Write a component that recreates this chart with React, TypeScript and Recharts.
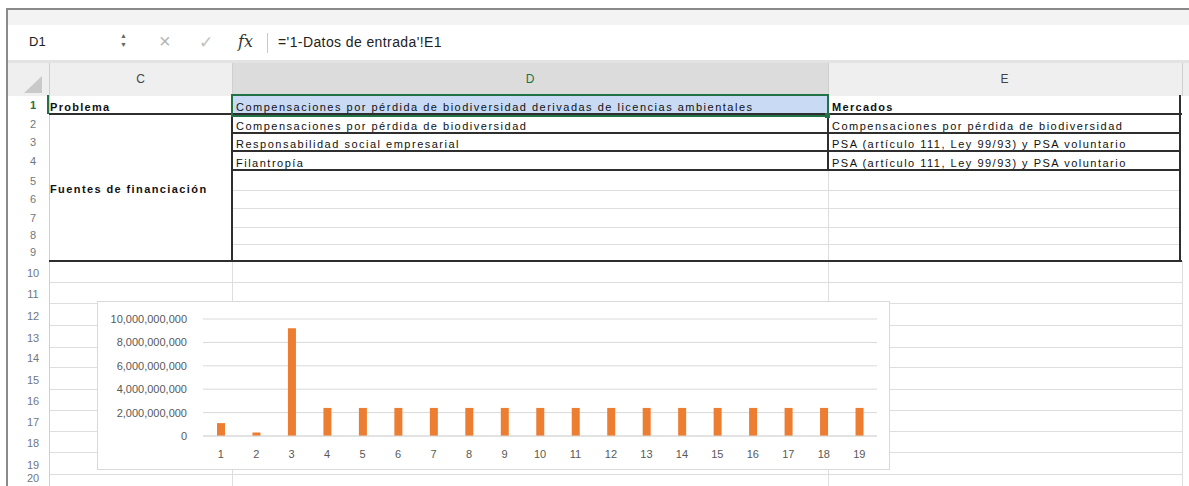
import React from 'react';
import { BarChart, Bar, XAxis, YAxis, CartesianGrid } from 'recharts';

// ---- chart data ----
const categories = ['1', '2', '3', '4', '5', '6', '7', '8', '9', '10', '11', '12', '13', '14', '15', '16', '17', '18', '19'];
const values = [
  1100000000, 300000000, 9200000000, 2400000000, 2400000000, 2400000000, 2400000000,
  2400000000, 2400000000, 2400000000, 2400000000, 2400000000, 2400000000, 2400000000,
  2400000000, 2400000000, 2400000000, 2400000000, 2400000000,
];
const yTicks = [0, 2000000000, 4000000000, 6000000000, 8000000000, 10000000000];

// ---- sheet texts ----
const columnLabels = ['C', 'D', 'E'];
const rowLabels = ['1', '2', '3', '4', '5', '6', '7', '8', '9', '10', '11', '12', '13', '14', '15', '16', '17', '18', '19', '20'];
const nameBoxText = 'D1';
const formulaText = "='1-Datos de entrada'!E1";
const cellC1 = 'Problema';
const cellC2 = 'Fuentes de financiación';
const columnDTexts = [
  'Compensaciones por pérdida de biodiversidad derivadas de licencias ambientales',
  'Compensaciones por pérdida de biodiversidad',
  'Responsabilidad social empresarial',
  'Filantropía',
];
const columnETexts = [
  'Mercados',
  'Compensaciones por pérdida de biodiversidad',
  'PSA (artículo 111, Ley 99/93) y PSA voluntario',
  'PSA (artículo 111, Ley 99/93) y PSA voluntario',
];

const data = categories.map((c, i) => ({ name: c, value: values[i] }));

// ---- layout constants ----
const colX = [49, 232, 828, 1181];
const rowBottoms = [114, 133, 151, 170, 190, 208, 227, 244, 261, 282, 303, 325, 347, 367, 389, 410, 431, 452, 474, 495];

const FONT = '"Liberation Sans", Arial, sans-serif';

const Box = (p: { l: number; t: number; w: number; h: number; bg: string; z?: number }) => (
  <div style={{ position: 'absolute', left: p.l, top: p.t, width: p.w, height: p.h, background: p.bg, zIndex: p.z || 0 }} />
);

const CellText = (p: { x: number; bottom: number; text: string; bold?: boolean }) => (
  <div
    style={{
      position: 'absolute',
      left: p.x,
      top: p.bottom - 16,
      height: 16,
      lineHeight: '16px',
      fontSize: 11,
      letterSpacing: p.bold ? 1.3 : 1.5,
      fontWeight: p.bold ? 700 : 400,
      color: '#111',
      whiteSpace: 'nowrap',
      fontFamily: FONT,
      zIndex: 3,
    }}
  >
    {p.text}
  </div>
);

export default function App() {
  const dark = '#2e2e2e';
  const light = '#dedede';
  return (
    <div style={{ position: 'fixed', left: 0, top: 0, width: 1189, height: 486, background: '#fff', overflow: 'hidden', fontFamily: FONT }}>
      {/* window frame */}
      <Box l={6} t={8} w={1183} h={2} bg="#8a8a8a" z={5} />
      <Box l={6} t={8} w={2} h={478} bg="#8a8a8a" z={5} />
      {/* toolbar band */}
      <Box l={8} t={10} w={1181} h={15} bg="#f3f3f3" />
      <Box l={8} t={60} w={1181} h={3} bg="#e3e3e3" />
      {/* name box */}
      <div style={{ position: 'absolute', left: 29, top: 34, fontSize: 13, color: '#222', fontFamily: FONT }}>{nameBoxText}</div>
      <div style={{ position: 'absolute', left: 120, top: 31, fontSize: 7, color: '#666', lineHeight: '9px' }}>▲<br />▼</div>
      <div style={{ position: 'absolute', left: 159, top: 30, fontSize: 20, color: '#b5b5b5', fontFamily: FONT }}>×</div>
      <div style={{ position: 'absolute', left: 199, top: 32, fontSize: 17, color: '#c0c0c0', fontFamily: FONT }}>✓</div>
      <div style={{ position: 'absolute', left: 238, top: 32, fontSize: 16, color: '#333', fontStyle: 'italic', fontFamily: '"DejaVu Serif", serif' }}>fx</div>
      <Box l={267} t={33} w={1} h={20} bg="#c8c8c8" />
      <div style={{ position: 'absolute', left: 278, top: 34, fontSize: 14, letterSpacing: 0.4, color: '#222', fontFamily: FONT }}>{formulaText}</div>

      {/* column headers */}
      <Box l={8} t={63} w={1181} h={33} bg="#efefef" />
      <Box l={232} t={63} w={596} h={33} bg="#dcdcdc" />
      <Box l={232} t={94} w={596} h={2} bg="#217346" />
      <Box l={49} t={63} w={1} h={33} bg="#cfcfcf" />
      <Box l={232} t={63} w={1} h={33} bg="#cfcfcf" />
      <Box l={828} t={63} w={1} h={33} bg="#cfcfcf" />
      <Box l={1182} t={63} w={1} h={33} bg="#cfcfcf" />
      <div style={{ position: 'absolute', left: 24, top: 76, width: 0, height: 0, borderLeft: '18px solid transparent', borderBottom: '17px solid #c9c9c9' }} />
      {columnLabels.map((c, i) => (
        <div
          key={c}
          style={{
            position: 'absolute',
            left: colX[i],
            width: colX[i + 1] - colX[i],
            top: 72,
            textAlign: 'center',
            fontSize: 12,
            color: c === 'D' ? '#217346' : '#444',
            fontFamily: FONT,
          }}
        >
          {c}
        </div>
      ))}

      {/* row headers */}
      <Box l={49} t={96} w={1} h={390} bg="#cfcfcf" />
      <Box l={47} t={95} w={2} h={19} bg="#217346" z={2} />
      {rowLabels.map((r, i) => (
        <div
          key={r}
          style={{
            position: 'absolute',
            left: 15,
            width: 36,
            top: Math.min(rowBottoms[i] - 15, 472),
            textAlign: 'center',
            fontSize: 11,
            color: i === 0 ? '#217346' : '#6f7780',
            fontWeight: i === 0 ? 700 : 400,
            fontFamily: FONT,
          }}
        >
          {r}
        </div>
      ))}

      {/* light gridlines */}
      {rowBottoms.slice(4, 8).map((y) => (
        <Box key={'g' + y} l={232} t={y} w={949} h={1} bg={light} />
      ))}
      {rowBottoms.slice(9).map((y) => (
        <Box key={'h' + y} l={50} t={y} w={1133} h={1} bg={light} />
      ))}
      <Box l={828} t={170} w={1} h={316} bg={light} />
      <Box l={232} t={261} w={1} h={225} bg={light} />
      <Box l={1182} t={261} w={1} h={225} bg={light} />

      {/* D1 selected cell */}
      <Box l={233} t={96} w={595} h={18} bg="#c9daf5" z={1} />
      <div style={{ position: 'absolute', left: 231, top: 94, width: 594, height: 19, border: '2px solid #217346', zIndex: 4 }} />
      <Box l={825} t={113} w={5} h={5} bg="#217346" z={5} />

      {/* dark borders */}
      <Box l={49} t={113} w={1133} h={2} bg={dark} z={2} />
      {[133, 151, 170].map((y) => (
        <Box key={'d' + y} l={232} t={y - 1} w={949} h={2} bg={dark} z={2} />
      ))}
      <Box l={49} t={260} w={1133} h={2} bg={dark} z={2} />
      <Box l={231} t={114} w={2} h={147} bg={dark} z={2} />
      <Box l={827} t={114} w={2} h={56} bg={dark} z={2} />
      <Box l={1179} t={95} w={2} h={166} bg={dark} z={2} />

      {/* cell texts */}
      <CellText x={50} bottom={115} text={cellC1} bold />
      <div
        style={{
          position: 'absolute',
          left: 50,
          top: 183,
          fontSize: 11,
          letterSpacing: 1.4,
          fontWeight: 700,
          color: '#111',
          whiteSpace: 'nowrap',
          fontFamily: FONT,
        }}
      >
        {cellC2}
      </div>
      {columnDTexts.map((t, i) => (
        <CellText key={'D' + i} x={236} bottom={rowBottoms[i] + 1} text={t} />
      ))}
      {columnETexts.map((t, i) => (
        <CellText key={'E' + i} x={832} bottom={rowBottoms[i] + 1} text={t} bold={i === 0} />
      ))}

      {/* embedded chart */}
      <div style={{ position: 'absolute', left: 97, top: 301, width: 791, height: 167, border: '1px solid #d9d9d9', background: '#fff', zIndex: 6 }}>
        <BarChart width={791} height={167} data={data} margin={{ top: 17, right: 12, left: 0, bottom: 0 }}>
          <CartesianGrid vertical={false} stroke="#d9d9d9" />
          <XAxis
            dataKey="name"
            height={33}
            axisLine={{ stroke: '#d9d9d9' }}
            tickLine={false}
            tickSize={0}
            tickMargin={14}
            interval={0}
            tick={{ fill: '#595959', fontSize: 11, fontFamily: FONT }}
          />
          <YAxis
            width={105}
            domain={[0, 10000000000]}
            ticks={yTicks}
            axisLine={false}
            tickLine={false}
            tickSize={0}
            tickMargin={16}
            tick={{ fill: '#595959', fontSize: 11, fontFamily: FONT }}
            tickFormatter={(v: number) => v.toLocaleString('en-US')}
          />
          <Bar dataKey="value" fill="#ED7D31" barSize={8} isAnimationActive={false} />
        </BarChart>
      </div>
    </div>
  );
}
